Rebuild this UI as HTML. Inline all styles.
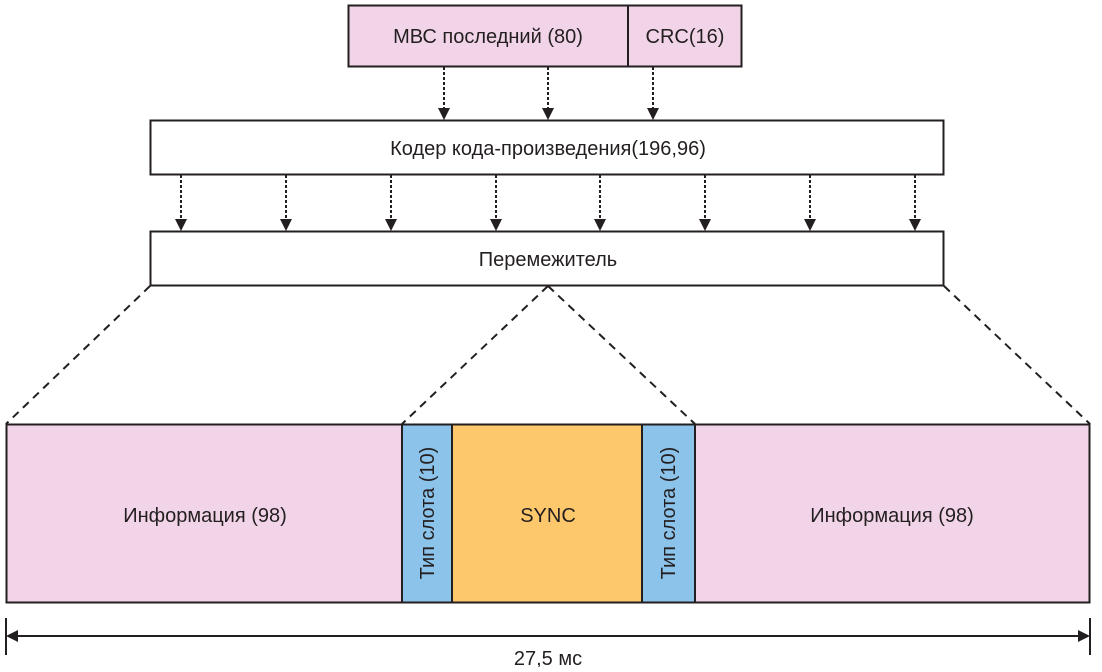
<!DOCTYPE html>
<html><head><meta charset="utf-8"><style>
body{margin:0;background:#fff}
svg text{font-family:"Liberation Sans",sans-serif;fill:#231f20}
</style></head><body>
<svg width="1102" height="667" viewBox="0 0 1102 667" xmlns="http://www.w3.org/2000/svg">
<rect x="348.5" y="5.5" width="393" height="61" fill="#f2d4e8" stroke="#231f20" stroke-width="2"/>
<line x1="628" y1="5" x2="628" y2="66" stroke="#231f20" stroke-width="2"/>
<text x="488" y="43" font-size="20" text-anchor="middle">МВС последний (80)</text>
<text x="685" y="43" font-size="20" text-anchor="middle">CRC(16)</text>
<g stroke="#231f20" stroke-width="2" stroke-dasharray="3,2">
<line x1="444" y1="67" x2="444" y2="110"/><line x1="548" y1="67" x2="548" y2="110"/><line x1="653" y1="67" x2="653" y2="110"/>
<line x1="181" y1="175" x2="181" y2="220"/><line x1="286" y1="175" x2="286" y2="220"/><line x1="391" y1="175" x2="391" y2="220"/><line x1="496" y1="175" x2="496" y2="220"/><line x1="600" y1="175" x2="600" y2="220"/><line x1="705" y1="175" x2="705" y2="220"/><line x1="810" y1="175" x2="810" y2="220"/><line x1="915" y1="175" x2="915" y2="220"/>
</g>
<g fill="#231f20">
<path d="M438,108h12l-6,12z M542,108h12l-6,12z M647,108h12l-6,12z"/>
<path d="M175,219h12l-6,12z M280,219h12l-6,12z M385,219h12l-6,12z M490,219h12l-6,12z M594,219h12l-6,12z M699,219h12l-6,12z M804,219h12l-6,12z M909,219h12l-6,12z"/>
</g>
<rect x="150.5" y="120.5" width="793" height="54" fill="#fff" stroke="#231f20" stroke-width="2"/>
<text x="548" y="155" font-size="20" text-anchor="middle">Кодер кода-произведения(196,96)</text>
<rect x="150.5" y="231.5" width="793" height="54" fill="#fff" stroke="#231f20" stroke-width="2"/>
<text x="548" y="266" font-size="20" text-anchor="middle">Перемежитель</text>
<g stroke="#231f20" stroke-width="2" stroke-dasharray="8,6">
<line x1="150" y1="286" x2="6" y2="424"/><line x1="548" y1="286" x2="402" y2="424"/><line x1="548" y1="286" x2="695" y2="424"/><line x1="944" y1="286" x2="1090" y2="424"/>
</g>
<rect x="6.5" y="424.5" width="1083" height="178" fill="#f2d4e8" stroke="#231f20" stroke-width="2"/>
<rect x="402" y="424.5" width="50" height="178" fill="#8cc3ea" stroke="#231f20" stroke-width="2"/>
<rect x="452" y="424.5" width="190" height="178" fill="#fdc76c" stroke="#231f20" stroke-width="2"/>
<rect x="642" y="424.5" width="53" height="178" fill="#8cc3ea" stroke="#231f20" stroke-width="2"/>
<text x="205" y="522" font-size="20" text-anchor="middle">Информация (98)</text>
<text x="892" y="522" font-size="20" text-anchor="middle">Информация (98)</text>
<text x="548" y="522" font-size="20" text-anchor="middle">SYNC</text>
<text transform="translate(434,513) rotate(-90)" font-size="20" text-anchor="middle">Тип слота (10)</text>
<text transform="translate(675,513) rotate(-90)" font-size="20" text-anchor="middle">Тип слота (10)</text>
<g stroke="#231f20" stroke-width="2">
<line x1="6" y1="618" x2="6" y2="655"/><line x1="1090" y1="618" x2="1090" y2="655"/>
<line x1="16" y1="636" x2="1080" y2="636"/>
</g>
<path d="M6,636 L18,630 L18,642z M1090,636 L1078,630 L1078,642z" fill="#231f20"/>
<text x="548" y="665" font-size="20" text-anchor="middle">27,5 мс</text>
</svg>
</body></html>
